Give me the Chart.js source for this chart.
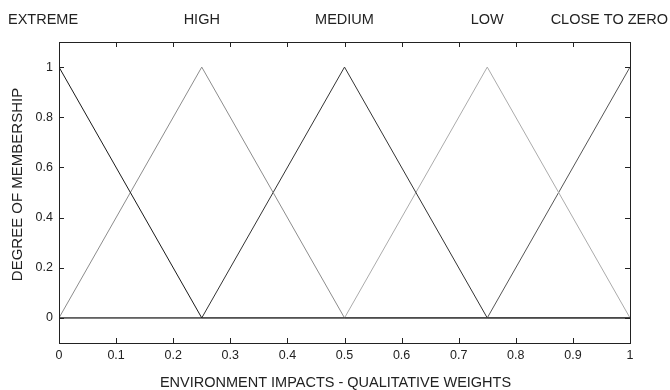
<!DOCTYPE html>
<html>
<head>
<meta charset="utf-8">
<script src="https://cdn.jsdelivr.net/npm/chart.js@4"></script>
<style>
  html, body { margin: 0; padding: 0; background: #fff; }
  #wrap { width: 670px; height: 390px; }
</style>
</head>
<body>
<div id="wrap"><canvas id="fuzzy"></canvas></div>
<script>
// breakpoints of the triangular membership functions
const xPoints = [0, 0.25, 0.5, 0.75, 1];
const extreme = [1, 0, 0, 0, 0];
const high = [0, 1, 0, 0, 0];
const medium = [0, 0, 1, 0, 0];
const low = [0, 0, 0, 1, 0];
const closeToZero = [0, 0, 0, 0, 1];

const setNames = ['EXTREME', 'HIGH', 'MEDIUM', 'LOW', 'CLOSE TO ZERO'];
const setPeaks = [0, 0.25, 0.5, 0.75, 1];

const xTicks = [0, 0.1, 0.2, 0.3, 0.4, 0.5, 0.6, 0.7, 0.8, 0.9, 1];
const yTicks = [0, 0.2, 0.4, 0.6, 0.8, 1];

const xTitle = 'ENVIRONMENT IMPACTS - QUALITATIVE WEIGHTS';
const yTitle = 'DEGREE OF MEMBERSHIP';

const FONT = 'Liberation Sans, Arial, sans-serif';

const toPoints = (vals) => vals.map((v, i) => ({ x: xPoints[i], y: v }));

// matlab style: ticks point inwards on all four sides, set names on top, axis titles
const frameTicks = {
  id: 'frameTicks',
  afterDraw(chart) {
    const { ctx, chartArea: a, scales } = chart;
    const len = 5;
    ctx.save();
    ctx.strokeStyle = '#222';
    ctx.lineWidth = 1;
    ctx.beginPath();
    xTicks.forEach(v => {
      const px = Math.round(scales.x.getPixelForValue(v)) + 0.5;
      ctx.moveTo(px, a.bottom); ctx.lineTo(px, a.bottom - len);
      ctx.moveTo(px, a.top); ctx.lineTo(px, a.top + len);
    });
    yTicks.forEach(v => {
      const py = Math.round(scales.y.getPixelForValue(v)) + 0.5;
      ctx.moveTo(a.left, py); ctx.lineTo(a.left + len, py);
      ctx.moveTo(a.right, py); ctx.lineTo(a.right - len, py);
    });
    ctx.stroke();
    ctx.strokeRect(Math.round(a.left) + 0.5, Math.round(a.top) + 0.5,
      Math.round(a.right - a.left), Math.round(a.bottom - a.top));

    ctx.fillStyle = '#222';
    ctx.textBaseline = 'middle';
    ctx.font = '14.5px ' + FONT;
    setNames.forEach((name, i) => {
      const px = scales.x.getPixelForValue(setPeaks[i]);
      if (i === 0) { ctx.textAlign = 'left'; ctx.fillText(name, 8, 20); }
      else if (i === setNames.length - 1) { ctx.textAlign = 'right'; ctx.fillText(name, chart.width - 2, 20); }
      else { ctx.textAlign = 'center'; ctx.fillText(name, px, 20); }
    });

    ctx.textAlign = 'center';
    ctx.fillText(xTitle, (a.left + a.right) / 2 - 9, 383);

    ctx.font = '15px ' + FONT;
    ctx.translate(18, (a.top + a.bottom) / 2 - 8);
    ctx.rotate(-Math.PI / 2);
    ctx.fillText(yTitle, 0, 0);
    ctx.restore();
  }
};

const lineDs = (label, vals, color) => ({
  label,
  data: toPoints(vals),
  borderColor: color,
  borderWidth: 1,
  pointRadius: 0,
  tension: 0,
  fill: false
});

new Chart(document.getElementById('fuzzy'), {
  type: 'line',
  data: {
    datasets: [
      lineDs('EXTREME', extreme, '#1a1a1a'),
      lineDs('HIGH', high, '#8c8c8c'),
      lineDs('MEDIUM', medium, '#333333'),
      lineDs('LOW', low, '#ababab'),
      lineDs('CLOSE TO ZERO', closeToZero, '#555555')
    ]
  },
  options: {
    responsive: true,
    maintainAspectRatio: false,
    animation: false,
    layout: { padding: { top: 42, right: 40, left: 0, bottom: 0 } },
    plugins: { legend: { display: false }, tooltip: { enabled: false } },
    scales: {
      x: {
        type: 'linear',
        min: 0,
        max: 1,
        afterBuildTicks: s => { s.ticks = xTicks.map(v => ({ value: v })); },
        afterFit: s => { s.height = 47; },
        grid: { display: false, drawTicks: false },
        border: { display: false },
        ticks: {
          padding: 5,
          color: '#222',
          font: { family: FONT, size: 12.5 },
          maxRotation: 0,
          callback: v => String(v)
        }
      },
      y: {
        min: -0.1,
        max: 1.1,
        afterBuildTicks: s => { s.ticks = yTicks.map(v => ({ value: v })); },
        afterFit: s => { s.width = 59; },
        grid: { display: false, drawTicks: false },
        border: { display: false },
        ticks: {
          padding: 6,
          color: '#222',
          font: { family: FONT, size: 12.5 },
          callback: v => String(v)
        }
      }
    }
  },
  plugins: [frameTicks]
});
</script>
</body>
</html>
